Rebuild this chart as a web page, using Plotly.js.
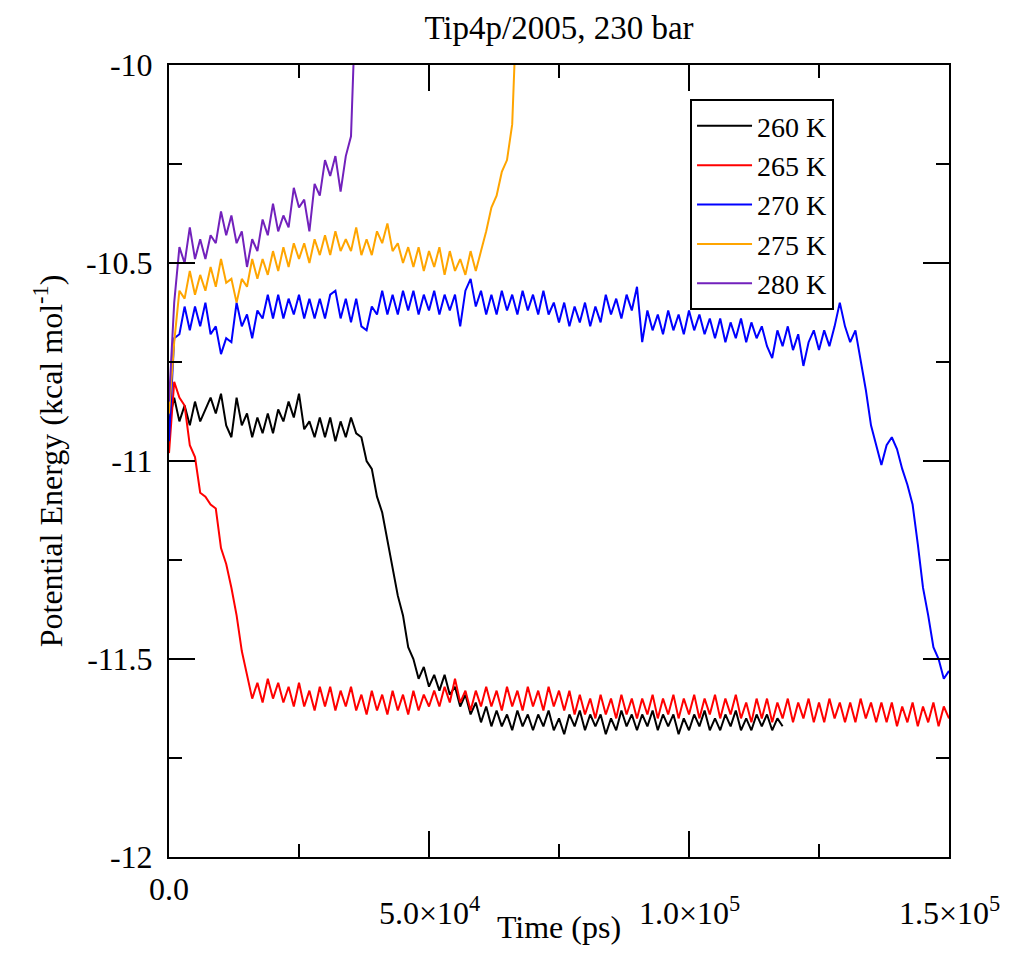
<!DOCTYPE html>
<html>
<head>
<meta charset="utf-8">
<script src="https://cdn.plot.ly/plotly-3.0.1.min.js"></script>
<style>
  html, body { margin: 0; padding: 0; background: #fff; }
  #chart { width: 1024px; height: 962px; }
</style>
</head>
<body>
<div id="chart"></div>
<script>
// sampling grid of the runs, in units of 1000 ps
const timeKps = [
  0,1,2,3,4,5,6,7,8,9,10,11,12,13,14,15,16,17,18,19,20,21,22,23,24,25,26,27,28,29,
  30,31,32,33,34,35,36,37,38,39,40,41,42,43,44,45,46,47,48,49,50,51,52,53,54,55,56,57,58,59,
  60,61,62,63,64,65,66,67,68,69,70,71,72,73,74,75,76,77,78,79,80,81,82,83,84,85,86,87,88,89,
  90,91,92,93,94,95,96,97,98,99,100,101,102,103,104,105,106,107,108,109,110,111,112,113,114,115,116,117,118,119,
  120,121,122,123,124,125,126,127,128,129,130,131,132,133,134,135,136,137,138,139,140,141,142,143,144,145,146,147,148,149,150
];

const seriesNames = ["260 K", "265 K", "270 K", "275 K", "280 K"];
const seriesColors = ["#000000", "#ff0000", "#0000ff", "#ffa500", "#7221bc"];

// potential energy (kcal/mol)
const energy260 = [
  -10.90,-10.84,-10.90,-10.86,-10.91,-10.85,-10.90,-10.87,-10.84,-10.88,
  -10.83,-10.91,-10.94,-10.84,-10.91,-10.88,-10.94,-10.89,-10.93,-10.88,
  -10.93,-10.87,-10.90,-10.85,-10.89,-10.83,-10.92,-10.90,-10.94,-10.89,
  -10.94,-10.89,-10.95,-10.90,-10.94,-10.89,-10.93,-10.94,-11.00,-11.02,
  -11.09,-11.13,-11.20,-11.26,-11.34,-11.39,-11.47,-11.50,-11.55,-11.52,
  -11.57,-11.54,-11.58,-11.54,-11.59,-11.57,-11.62,-11.59,-11.64,-11.61,
  -11.66,-11.62,-11.67,-11.63,-11.67,-11.64,-11.68,-11.63,-11.67,-11.64,
  -11.68,-11.64,-11.67,-11.63,-11.68,-11.65,-11.69,-11.64,-11.67,-11.63,
  -11.68,-11.64,-11.67,-11.64,-11.69,-11.65,-11.68,-11.63,-11.67,-11.64,
  -11.68,-11.64,-11.67,-11.63,-11.68,-11.64,-11.67,-11.64,-11.69,-11.65,
  -11.68,-11.64,-11.67,-11.63,-11.68,-11.65,-11.68,-11.64,-11.67,-11.63,
  -11.68,-11.65,-11.68,-11.64,-11.67,-11.64,-11.68,-11.65,-11.67
];

const energy265 = [
  -10.98,-10.80,-10.84,-10.86,-10.96,-10.99,-11.08,-11.09,-11.11,-11.12,
  -11.22,-11.26,-11.32,-11.39,-11.48,-11.54,-11.60,-11.56,-11.61,-11.55,
  -11.60,-11.56,-11.61,-11.57,-11.62,-11.56,-11.62,-11.58,-11.63,-11.57,
  -11.62,-11.57,-11.63,-11.58,-11.62,-11.57,-11.63,-11.59,-11.64,-11.58,
  -11.63,-11.59,-11.64,-11.58,-11.63,-11.59,-11.64,-11.58,-11.63,-11.59,
  -11.62,-11.58,-11.62,-11.57,-11.61,-11.55,-11.61,-11.58,-11.63,-11.58,
  -11.62,-11.57,-11.62,-11.58,-11.63,-11.57,-11.62,-11.58,-11.63,-11.57,
  -11.62,-11.58,-11.63,-11.57,-11.62,-11.58,-11.63,-11.58,-11.64,-11.59,
  -11.64,-11.60,-11.65,-11.59,-11.64,-11.60,-11.65,-11.59,-11.64,-11.60,
  -11.65,-11.60,-11.64,-11.59,-11.65,-11.60,-11.64,-11.59,-11.65,-11.60,
  -11.64,-11.59,-11.65,-11.60,-11.64,-11.59,-11.65,-11.60,-11.64,-11.59,
  -11.65,-11.61,-11.66,-11.60,-11.65,-11.60,-11.66,-11.61,-11.65,-11.60,
  -11.66,-11.61,-11.65,-11.60,-11.66,-11.61,-11.66,-11.60,-11.65,-11.61,
  -11.66,-11.61,-11.66,-11.60,-11.65,-11.61,-11.66,-11.61,-11.66,-11.61,
  -11.67,-11.62,-11.66,-11.61,-11.67,-11.62,-11.66,-11.61,-11.67,-11.62,
  -11.65
];

const energy270 = [
  -10.95,-10.69,-10.68,-10.61,-10.67,-10.61,-10.66,-10.60,-10.68,-10.66,
  -10.73,-10.69,-10.70,-10.60,-10.66,-10.63,-10.69,-10.62,-10.64,-10.58,
  -10.64,-10.58,-10.64,-10.59,-10.63,-10.58,-10.64,-10.59,-10.64,-10.59,
  -10.64,-10.58,-10.57,-10.64,-10.59,-10.65,-10.59,-10.66,-10.67,-10.61,
  -10.63,-10.57,-10.63,-10.58,-10.63,-10.57,-10.62,-10.57,-10.63,-10.58,
  -10.62,-10.57,-10.63,-10.58,-10.62,-10.58,-10.66,-10.57,-10.54,-10.61,
  -10.57,-10.63,-10.58,-10.63,-10.57,-10.62,-10.58,-10.63,-10.57,-10.62,
  -10.58,-10.63,-10.57,-10.63,-10.60,-10.65,-10.60,-10.66,-10.61,-10.65,
  -10.60,-10.66,-10.61,-10.65,-10.58,-10.63,-10.59,-10.64,-10.58,-10.62,
  -10.56,-10.70,-10.62,-10.67,-10.63,-10.68,-10.62,-10.67,-10.63,-10.68,
  -10.62,-10.67,-10.63,-10.68,-10.64,-10.69,-10.64,-10.70,-10.65,-10.69,
  -10.64,-10.70,-10.65,-10.69,-10.66,-10.71,-10.74,-10.67,-10.71,-10.66,
  -10.72,-10.68,-10.76,-10.70,-10.67,-10.72,-10.67,-10.71,-10.66,-10.60,
  -10.66,-10.70,-10.67,-10.74,-10.82,-10.91,-10.96,-11.01,-10.96,-10.94,
  -10.97,-11.02,-11.06,-11.11,-11.21,-11.32,-11.39,-11.47,-11.50,-11.55,
  -11.53
];

const energy275 = [
  -10.88,-10.70,-10.57,-10.59,-10.52,-10.58,-10.53,-10.57,-10.51,-10.56,
  -10.49,-10.55,-10.54,-10.60,-10.54,-10.56,-10.49,-10.54,-10.49,-10.53,
  -10.47,-10.52,-10.46,-10.51,-10.45,-10.49,-10.45,-10.50,-10.44,-10.48,
  -10.43,-10.48,-10.42,-10.47,-10.44,-10.47,-10.41,-10.48,-10.44,-10.48,
  -10.42,-10.45,-10.40,-10.47,-10.45,-10.50,-10.46,-10.51,-10.46,-10.52,
  -10.47,-10.51,-10.46,-10.53,-10.47,-10.52,-10.49,-10.53,-10.47,-10.52,
  -10.47,-10.42,-10.36,-10.33,-10.27,-10.24,-10.15,-9.80
];

const energy280 = [
  -10.85,-10.60,-10.46,-10.50,-10.41,-10.49,-10.44,-10.49,-10.43,-10.45,
  -10.37,-10.43,-10.38,-10.45,-10.42,-10.51,-10.44,-10.47,-10.39,-10.43,
  -10.35,-10.42,-10.38,-10.41,-10.31,-10.36,-10.34,-10.42,-10.30,-10.33,
  -10.24,-10.28,-10.23,-10.32,-10.23,-10.18,-9.80
];

const allEnergies = [energy260, energy265, energy270, energy275, energy280];

const xTickVals = [0, 50000, 100000, 150000];
const xTickText = ["0.0", "5.0×10<sup>4</sup>", "1.0×10<sup>5</sup>", "1.5×10<sup>5</sup>"];
const yTickVals = [-12, -11.5, -11, -10.5, -10];
const yTickText = ["-12", "-11.5", "-11", "-10.5", "-10"];

const timePs = timeKps.map(k => k * 1000);
const serif = "Liberation Serif, Times New Roman, serif";

const traces = allEnergies.map((e, i) => ({
  x: timePs.slice(0, e.length),
  y: e,
  type: "scatter",
  mode: "lines",
  name: seriesNames[i],
  line: { color: seriesColors[i], width: 2 }
}));

// xmgrace style tick labels: the ones with exponents sit lower
const xLabels = xTickVals.map((v, i) => ({
  x: v, xref: "x",
  y: 0, yref: "paper",
  text: xTickText[i],
  showarrow: false,
  xanchor: "center",
  yanchor: "top",
  yshift: xTickText[i].includes("<sup>") ? -32 : -12,
  font: { family: serif, size: 32, color: "#000" }
}));

const axisCommon = {
  showgrid: false,
  zeroline: false,
  showline: true,
  linecolor: "#000",
  linewidth: 2,
  mirror: "allticks",
  ticks: "inside",
  ticklen: 26,
  tickwidth: 2,
  tickcolor: "#000"
};

const layout = {
  width: 1024,
  height: 962,
  margin: { l: 169, r: 75, t: 65, b: 105 },
  paper_bgcolor: "#fff",
  plot_bgcolor: "#fff",
  font: { family: serif, size: 32, color: "#000" },
  title: {
    text: "Tip4p/2005, 230 bar",
    x: 0.5, xref: "paper",
    y: 0.971, yref: "container", yanchor: "middle",
    font: { family: serif, size: 33, color: "#000" }
  },
  xaxis: Object.assign({}, axisCommon, {
    range: [0, 150000],
    tickvals: xTickVals,
    showticklabels: false,
    minor: { dtick: 25000, tick0: 0, ticks: "inside", ticklen: 13, tickwidth: 2, tickcolor: "#000", showgrid: false },
    title: { text: "Time (ps)", standoff: 58, font: { family: serif, size: 32, color: "#000" } }
  }),
  yaxis: Object.assign({}, axisCommon, {
    range: [-12, -10],
    tickvals: yTickVals,
    ticktext: yTickText,
    ticklabelstandoff: 8,
    tickfont: { family: serif, size: 32, color: "#000" },
    minor: { dtick: 0.25, tick0: -12, ticks: "inside", ticklen: 13, tickwidth: 2, tickcolor: "#000", showgrid: false },
    title: { text: "Potential Energy (kcal mol<sup>-1</sup>)", standoff: 14, font: { family: serif, size: 32, color: "#000" } }
  }),
  showlegend: true,
  legend: {
    x: 0.668, y: 0.957, xanchor: "left", yanchor: "top",
    bgcolor: "#fff",
    bordercolor: "#000",
    borderwidth: 2,
    itemwidth: 55,
    font: { family: serif, size: 28, color: "#000" }
  },
  annotations: xLabels
};

Plotly.newPlot("chart", traces, layout, { displayModeBar: false, responsive: false });
</script>
</body>
</html>
